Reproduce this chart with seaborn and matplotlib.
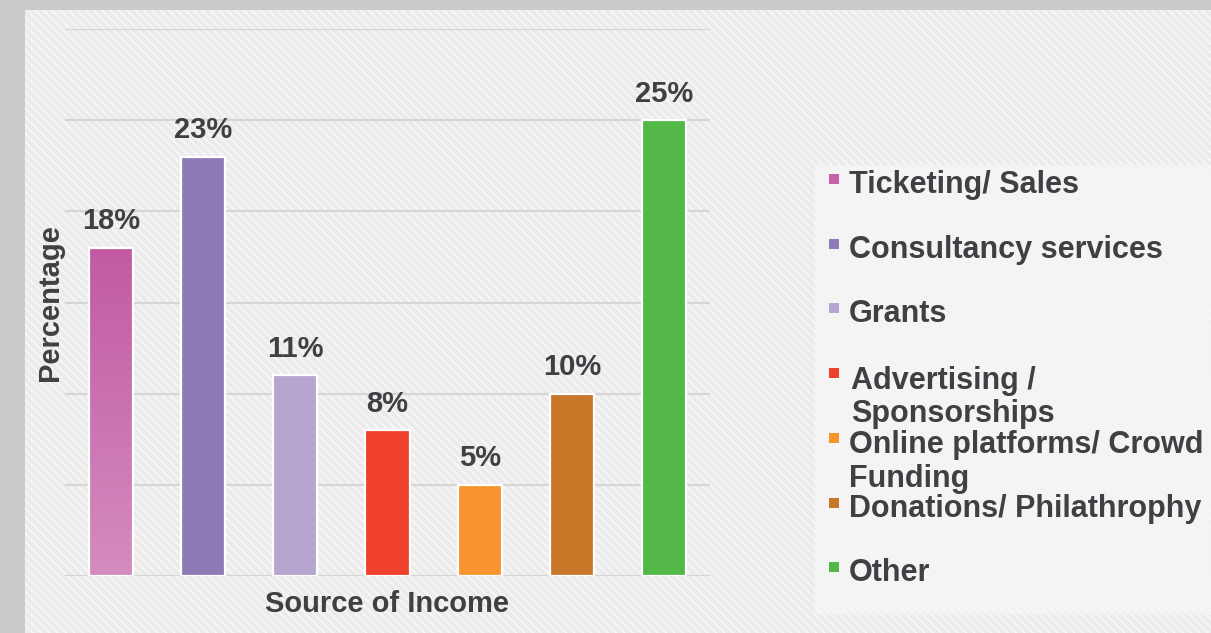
import numpy as np
import matplotlib
matplotlib.use("Agg")
import matplotlib.pyplot as plt
from matplotlib.patches import Rectangle
from matplotlib.colors import LinearSegmentedColormap
import seaborn as sns

# ---------------- data ----------------
categories = ["Ticketing/ Sales", "Consultancy services", "Grants",
              "Advertising /\nSponsorships", "Online platforms/ Crowd\nFunding",
              "Donations/ Philathrophy", "Other"]
values = [18, 23, 11, 8, 5, 10, 25]
colors = ["#c762a8", "#8f7ab8", "#b7a5d1", "#ef412b", "#f7942e", "#c87728", "#53b848"]
x_label = "Source of Income"
y_label = "Percentage"

sns.set_theme(style="white")
plt.rcParams["font.family"] = ["Liberation Sans", "DejaVu Sans"]
plt.rcParams["hatch.linewidth"] = 1.3
TXT = "#3e4043"
FS = 21
FS_LEG = 22

W, H = 1211, 633
fig = plt.figure(figsize=(W / 100, H / 100), dpi=100)
fig.patch.set_facecolor("#c9caca")


def px(x, y):
    return x / W, 1 - y / H


# textured panel background
panel = Rectangle(px(25, H), (W - 25) / W, (H - 10) / H, transform=fig.transFigure,
                  facecolor="#ebebeb", edgecolor="#f7f7f7", hatch="\\\\\\\\", linewidth=0,
                  zorder=-2)
fig.patches.append(panel)
# legend area (slightly lighter)
lx0, ly0, lx1, ly1 = 815, 165, W, 615
leg_bg = Rectangle(px(lx0, ly1), (lx1 - lx0) / W, (ly1 - ly0) / H, transform=fig.transFigure,
                   facecolor="#f6f6f6", edgecolor="none", alpha=0.75, zorder=-1)
fig.patches.append(leg_bg)

# axes
ax = fig.add_axes([65 / W, 1 - 576 / H, (710 - 65) / W, (576 - 29) / H])
ax.set_zorder(1)
ax.set_facecolor("none")
sns.barplot(x=categories, y=values, hue=categories, palette=colors, legend=False,
            width=0.48, edgecolor="white", linewidth=1.6, saturation=1, ax=ax, zorder=3)
for yv in range(0, 31, 5):
    ax.axhline(yv, color="#d5d5d5", linewidth=1.6, zorder=1)
for s in ax.spines.values():
    s.set_visible(False)
ax.set_xticks([])
ax.set_yticks([])

# gradient on first bar
bar0 = ax.patches[0]
bx, by = bar0.get_x(), bar0.get_y()
bw, bh = bar0.get_width(), bar0.get_height()
grad = np.linspace(0, 1, 256).reshape(-1, 1)
cm = LinearSegmentedColormap.from_list("pk", ["#d48cbe", "#c25aa3"])
im = ax.imshow(grad, cmap=cm, extent=[bx, bx + bw, by, by + bh], origin="lower",
               aspect="auto", zorder=3.5)
im.set_clip_path(bar0)
ax.add_patch(Rectangle((bx, by), bw, bh, facecolor="none", edgecolor="white",
                       linewidth=1.6, zorder=4))
ax.set_xlim(-0.5, len(categories) - 0.5)
ax.set_ylim(0, 30)

# value labels
for cont, v in zip(ax.containers, values):
    ax.bar_label(cont, labels=[f"{v}%"], padding=9, fontsize=FS, fontweight="bold",
                 color=TXT)

ax.set_xlabel(x_label, fontsize=FS, fontweight="bold", color=TXT)
ax.set_ylabel(y_label, fontsize=FS, fontweight="bold", color=TXT)
ax.xaxis.set_label_coords(0.5, -0.026)
ax.yaxis.set_label_coords(-0.002, 0.5)

# legend (manual, fixed pitch like the original)
y0, pitch, line_h = 183, 64.7, 35
for i, (lab, col) in enumerate(zip(categories, colors)):
    yc = y0 + pitch * i
    fig.patches.append(Rectangle(px(829, yc + 1), 10 / W, 10 / H, transform=fig.transFigure,
                                 facecolor=col, edgecolor="none", zorder=2))
    xt = 851 if "Advertising" in lab else 849
    nl = lab.count("\n")
    fig.text(*px(xt, yc + 10 + nl * line_h), lab, fontsize=FS_LEG, fontweight="bold",
             color=TXT, ha="left", va="baseline", linespacing=1.15)

fig.savefig("out.png", dpi=100, facecolor=fig.get_facecolor())
